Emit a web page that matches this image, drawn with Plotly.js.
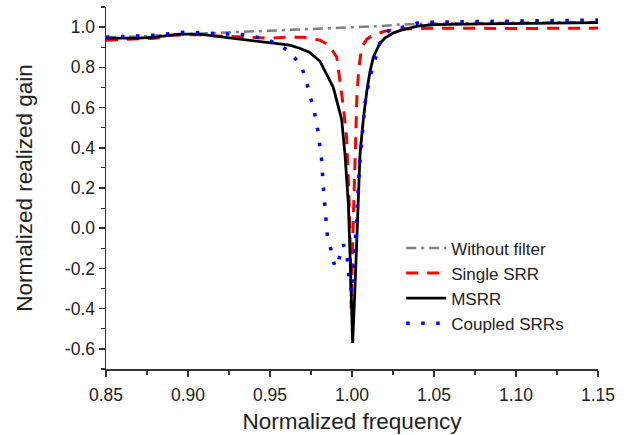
<!DOCTYPE html>
<html>
<head>
<meta charset="utf-8">
<script src="https://cdn.plot.ly/plotly-3.0.1.min.js"></script>
<style>html,body{margin:0;padding:0;background:#fff;}#chart{width:630px;height:435px;}</style>
</head>
<body>
<div id="chart"></div>
<script>
// Data
const seriesNames = ["Without filter", "Single SRR", "MSRR", "Coupled SRRs"];

const freqWithout = [0.85,0.87,0.89,0.905,0.924,0.94,0.964,0.98,1.0,1.017,1.03,1.05,1.1,1.15];
const gainWithout = [0.95,0.953,0.962,0.967,0.972,0.98,0.988,0.992,0.997,1.005,1.013,1.018,1.022,1.025];

const freqSingle = [0.85,0.87,0.88,0.89,0.905,0.92,0.936,0.95,0.96,0.97,0.9805,0.986,0.9907,0.9925,0.9945,0.9967,0.998,0.999,0.9995,1.0003,1.0012,1.002,1.003,1.0042,1.006,1.009,1.013,1.02,1.03,1.05,1.1,1.15];
const gainSingle = [0.935,0.94,0.945,0.96,0.963,0.955,0.95,0.945,0.95,0.95,0.935,0.91,0.85,0.75,0.62,0.45,0.2,-0.1,-0.40,-0.1,0.2,0.45,0.66,0.8,0.9,0.94,0.96,0.98,0.99,0.995,0.993,0.995];

const freqMSRR = [0.85,0.87,0.88,0.895,0.907,0.927,0.948,0.962,0.968,0.974,0.9805,0.9856,0.9886,0.9915,0.9937,0.9957,0.9978,0.9988,0.9998,1.0004,1.0018,1.0028,1.0036,1.0049,1.0069,1.009,1.011,1.013,1.017,1.02,1.025,1.03,1.04,1.05,1.08,1.15];
const gainMSRR = [0.945,0.945,0.95,0.965,0.965,0.945,0.925,0.91,0.895,0.875,0.83,0.75,0.70,0.61,0.54,0.37,0.12,-0.13,-0.38,-0.57,-0.3,-0.05,0.15,0.37,0.54,0.68,0.78,0.85,0.92,0.945,0.97,0.985,1.005,1.012,1.016,1.022];

const freqCoupled = [0.85,0.87,0.88,0.897,0.91,0.934,0.945,0.952,0.961,0.969,0.972,0.975,0.977,0.9789,0.9801,0.9815,0.9825,0.9835,0.9845,0.985,0.9876,0.9896,0.992,0.9947,0.9967,0.9978,0.9984,1.0004,1.0008,1.0014,1.0018,1.0023,1.0028,1.0034,1.0045,1.0059,1.0079,1.011,1.014,1.017,1.022,1.04,1.05,1.1,1.15];
const gainCoupled = [0.95,0.955,0.96,0.975,0.97,0.962,0.945,0.925,0.885,0.81,0.735,0.65,0.58,0.50,0.42,0.34,0.205,0.11,0.04,-0.04,-0.12,-0.195,-0.155,-0.08,-0.125,-0.2,-0.28,-0.32,-0.245,-0.17,-0.095,-0.015,0.065,0.13,0.3,0.455,0.62,0.755,0.84,0.92,0.98,1.02,1.025,1.03,1.035];

// Axis tick labels (hyphen-minus as in the reference)
const yTickVals = [-0.6,-0.4,-0.2,0.0,0.2,0.4,0.6,0.8,1.0];
const yTickText = ["-0.6","-0.4","-0.2","0.0","0.2","0.4","0.6","0.8","1.0"];
const xTickVals = [0.85,0.90,0.95,1.00,1.05,1.10,1.15];
const xTickText = ["0.85","0.90","0.95","1.00","1.05","1.10","1.15"];

const fontFam = 'Arial, "Liberation Sans", sans-serif';
const txt = '#222';

const traces = [
  {x: freqWithout, y: gainWithout, name: seriesNames[0], mode: 'lines',
   line: {color: '#808080', width: 2.5, dash: '10px,5px,3px,5px'}},
  {x: freqSingle, y: gainSingle, name: seriesNames[1], mode: 'lines',
   line: {color: '#ff0000', width: 3, dash: '12px,9px'}},
  {x: freqMSRR, y: gainMSRR, name: seriesNames[2], mode: 'lines',
   line: {color: '#000000', width: 2.8}},
  {x: freqCoupled, y: gainCoupled, name: seriesNames[3], mode: 'lines',
   line: {color: '#0000ff', width: 3.5, dash: '3.5px,11.5px'}}
];

const layout = {
  width: 630, height: 435,
  margin: {l: 106, r: 32, t: 7, b: 66},
  paper_bgcolor: '#fff', plot_bgcolor: '#fff',
  font: {family: fontFam, color: txt, size: 17},
  showlegend: true,
  legend: {x: 0.6, y: 0.383, xanchor: 'left', yanchor: 'top',
           bgcolor: 'rgba(0,0,0,0)', font: {size: 17, color: txt, family: fontFam},
           itemwidth: 40, tracegroupgap: 0},
  xaxis: {
    range: [0.85, 1.15], tickmode: 'array', tickvals: xTickVals, ticktext: xTickText,
    showgrid: false, zeroline: false, showline: true, linecolor: '#333', linewidth: 1.5,
    ticks: 'outside', ticklen: 6, tickwidth: 1.5, tickcolor: '#333', ticklabelstandoff: 3,
    minor: {dtick: 0.025, tick0: 0.85, ticks: 'outside', ticklen: 4, tickwidth: 1.2, tickcolor: '#333', showgrid: false},
    tickfont: {size: 17.5, color: txt},
    title: {text: 'Normalized frequency', font: {size: 22.5, color: txt}, standoff: 9}
  },
  yaxis: {
    range: [-0.7, 1.1], tickmode: 'array', tickvals: yTickVals, ticktext: yTickText,
    showgrid: false, zeroline: false, showline: true, linecolor: '#333', linewidth: 1.5,
    ticks: 'outside', ticklen: 6, tickwidth: 1.5, tickcolor: '#333',
    minor: {dtick: 0.1, tick0: 0, ticks: 'outside', ticklen: 4, tickwidth: 1.2, tickcolor: '#333', showgrid: false},
    tickfont: {size: 17.5, color: txt},
    title: {text: 'Normalized realized gain', font: {size: 22.5, color: txt}, standoff: 26}
  }
};

Plotly.newPlot('chart', traces, layout, {displayModeBar: false, staticPlot: true});
</script>
</body>
</html>
